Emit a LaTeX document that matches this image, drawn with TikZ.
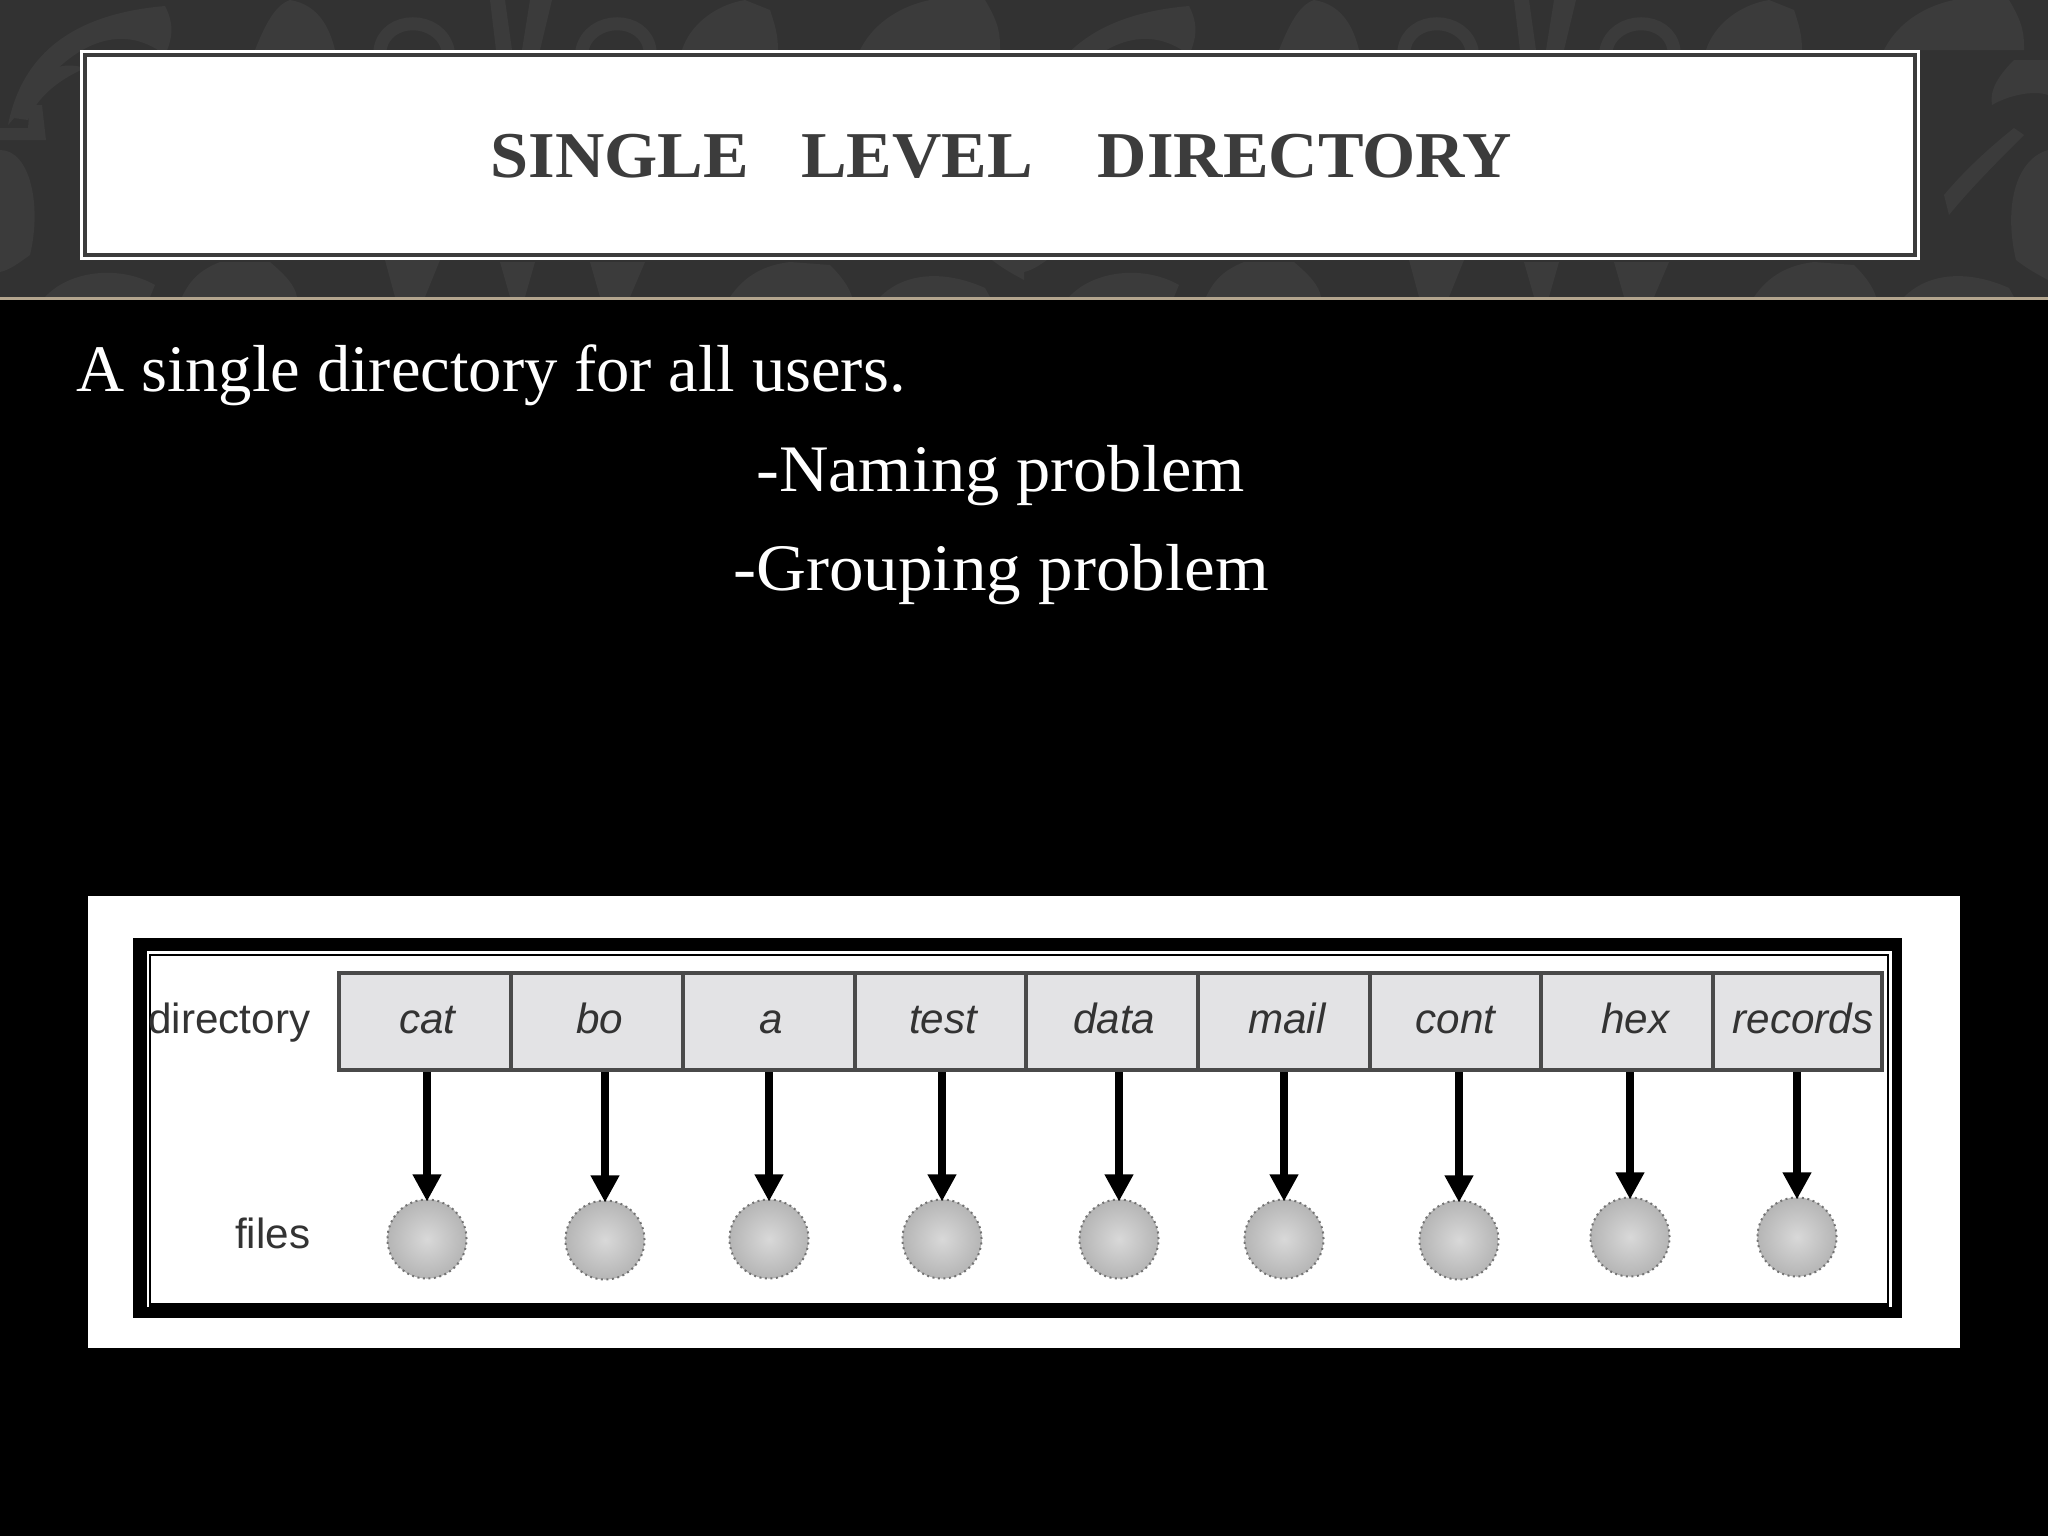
\documentclass[tikz,border=0pt]{standalone}
\usepackage{fontspec}
\setmainfont{Liberation Serif}
\setsansfont{Liberation Sans}
\usepackage{tikz}
\usetikzlibrary{arrows.meta}
\definecolor{band}{HTML}{323232}
\definecolor{leafgray}{HTML}{3B3B3B}
\definecolor{inkgray}{HTML}{3C3C3C}
\definecolor{tan}{HTML}{B3A58E}
\definecolor{cellgray}{HTML}{E3E3E5}
\definecolor{cellline}{HTML}{4A4A4A}
\tikzset{
	leaf/.style = {fill=leafgray, draw=none},
	stem/.style = {draw=leafgray, line width=.13cm, line cap=round},
	body/.style = {anchor=base, text=white, inner sep=0pt, font=\fontsize{18.9}{22}\selectfont},
	cell/.style = {draw=cellline, fill=cellgray, line width=.04cm, minimum width=1.72cm, minimum height=.97cm, inner sep=0pt, text height=.30cm, text depth=.07cm, font=\sffamily\itshape\fontsize{12}{14}\selectfont, text=black!80},
	tag/.style = {anchor=base east, inner sep=0pt, font=\sffamily\fontsize{12}{14}\selectfont, text=black!80},
	file/.style = {circle, draw=black!55, densely dotted, line width=.02cm, minimum size=.79cm, inner sep=0pt, shading=radial, inner color=black!15, outer color=black!29},
	link/.style = {line width=.08cm, shorten >=-.03cm, -{Triangle[width=.27cm, length=.27cm]}}
}
\begin{document}
\begin{tikzpicture}[x=.01cm, y=-.01cm, node distance={1.716cm}]
	\useasboundingbox (0,0) rectangle (2048,1536);
	\fill[black] (0,0) rectangle (2048,1536);
	\fill[band] (0,0) rectangle (2048,297);
	\foreach \o in {0,1024} {
		\begin{scope}[xshift=\o*.01cm]
			\fill[leaf] (8,125) .. controls (20,65) and (60,15) .. (165,6) .. controls (175,25) and (172,40) .. (165,55) .. controls (120,20) and (70,45) .. (30,100) -- cycle;
			\fill[leaf] (14,118) .. controls (30,70) and (60,60) .. (85,68) .. controls (70,75) and (40,90) .. (28,120) -- cycle;
			\fill[leaf] (0,128) -- (28,128) -- (30,105) -- (42,105) -- (46,140) -- (0,140) -- cycle;
			\fill[leaf] (0,150) .. controls (30,150) and (42,205) .. (30,255) .. controls (20,262) and (10,270) .. (0,272) -- cycle;
			\fill[leaf] (255,50) .. controls (265,25) and (275,5) .. (290,0) .. controls (320,5) and (330,30) .. (335,50) -- cycle;
			\draw[stem] (380,50) .. controls (385,15) and (440,15) .. (448,50);
			\fill[leaf] (490,0) -- (505,0) -- (512,50) -- (496,50) -- cycle;
			\fill[leaf] (530,0) -- (552,0) -- (540,50) -- (522,50) -- cycle;
			\draw[stem] (582,50) .. controls (590,15) and (645,15) .. (650,50);
			\fill[leaf] (682,50) .. controls (690,25) and (715,5) .. (745,0) -- (770,10) .. controls (775,25) and (778,35) .. (778,50) -- cycle;
			\fill[leaf] (860,50) .. controls (875,20) and (905,5) .. (930,0) -- (985,0) .. controls (1000,25) and (1000,35) .. (1000,50) -- cycle;
			\fill[leaf] (920,195) .. controls (945,165) and (975,140) .. (990,128) -- (1000,135) .. controls (975,160) and (945,190) .. (925,215) -- cycle;
			\fill[leaf] (990,60) .. controls (975,75) and (965,90) .. (968,105) .. controls (985,95) and (1010,90) .. (1024,95) -- (1024,60) -- cycle;
			\fill[leaf] (1024,150) .. controls (990,160) and (980,210) .. (992,260) .. controls (1005,270) and (1015,275) .. (1024,280) -- cycle;
			\fill[leaf] (45,297) .. controls (70,270) and (120,265) .. (155,285) -- (150,297) -- cycle;
			\fill[leaf] (182,297) .. controls (190,280) and (200,270) .. (220,262) -- (270,262) .. controls (285,275) and (295,285) .. (297,297) -- cycle;
			\fill[leaf] (385,260) -- (440,260) -- (425,297) -- (395,297) -- cycle;
			\fill[leaf] (500,262) -- (535,262) -- (525,297) -- (510,297) -- cycle;
			\fill[leaf] (590,262) -- (645,262) -- (630,297) -- (600,297) -- cycle;
			\fill[leaf] (730,297) .. controls (745,275) and (765,265) .. (790,262) -- (830,265) .. controls (845,280) and (850,290) .. (852,297) -- cycle;
			\fill[leaf] (880,297) .. controls (905,272) and (945,270) .. (985,288) -- (990,297) -- cycle;
		\end{scope}
	}
	\fill[tan] (0,296.5) rectangle (2048,299.5);

	\fill[white] (80,50) rectangle (1920,260);
	\fill[inkgray] (83,53) rectangle (1916.5,257);
	\fill[white] (87,57) rectangle (1913,253);
	\node (title) [anchor=base, inner sep=0pt, text=inkgray, xscale=1.045, font=\bfseries\fontsize{18.6}{22}\selectfont] at (1001.5,177) {SINGLE\hspace{.5cm}LEVEL\hspace{.62cm}DIRECTORY};

	\node[body, xscale=1.003] (intro) at (491,391) {A single directory for all users.};
	\node[body, xscale=1.03] (naming) at (1000.5,491) {-Naming problem};
	\node[body, xscale=1.04] (grouping) at (1001,590) {-Grouping problem};

	\fill[white] (88,896) rectangle (1960,1348);
	\fill[black] (133,938) rectangle (1902,1318);
	\fill[white] (147,951) rectangle (1892,1307);
	\draw[black, line width=.025cm] (150,955) rectangle (1888,1307);
	\fill[black] (150,1303) rectangle (1888,1318);

	\node[cell] (d1) at (425.5,1021.5) {\hspace*{.04cm}cat};
	\node[cell] (d2) [right of=d1] {\hspace*{.05cm}bo};
	\node[cell] (d3) [right of=d2] {\hspace*{.05cm}a};
	\node[cell] (d4) [right of=d3] {\hspace*{.05cm}test};
	\node[cell] (d5) [right of=d4] {\hspace*{.04cm}data};
	\node[cell] (d6) [right of=d5] {\hspace*{.06cm}mail};
	\node[cell] (d7) [right of=d6] {cont};
	\node[cell] (d8) [right of=d7] {\hspace*{.16cm}hex};
	\node[cell] (d9) [right of=d8, minimum width=1.69cm, xshift=-.015cm] {\hspace*{.11cm}records};

	\node[tag] (dirs) at (311,1033) {directory};
	\node[tag] (files) at (311,1248) {files};

	\node[file] (f1) at (427,1239) {};
	\node[file] (f2) at (605,1240) {};
	\node[file] (f3) at (769,1239) {};
	\node[file] (f4) at (942,1239) {};
	\node[file] (f5) at (1119,1239) {};
	\node[file] (f6) at (1284,1239) {};
	\node[file] (f7) at (1459,1240) {};
	\node[file] (f8) at (1630,1237) {};
	\node[file] (f9) at (1797,1237) {};

	\draw[link] (f1 |- d1.south) -- (f1);
	\draw[link] (f2 |- d2.south) -- (f2);
	\draw[link] (f3 |- d3.south) -- (f3);
	\draw[link] (f4 |- d4.south) -- (f4);
	\draw[link] (f5 |- d5.south) -- (f5);
	\draw[link] (f6 |- d6.south) -- (f6);
	\draw[link] (f7 |- d7.south) -- (f7);
	\draw[link] (f8 |- d8.south) -- (f8);
	\draw[link] (f9 |- d9.south) -- (f9);
\end{tikzpicture}
\end{document}
